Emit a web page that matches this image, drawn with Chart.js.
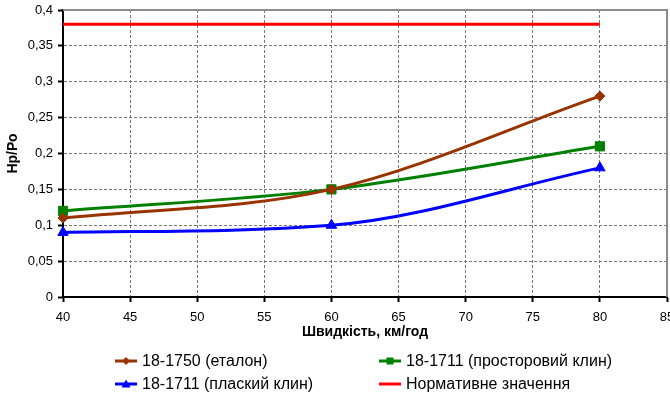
<!DOCTYPE html>
<html>
<head>
<meta charset="utf-8">
<script src="https://cdn.jsdelivr.net/npm/chart.js@4.4.1/dist/chart.umd.min.js"></script>
<style>
  html, body { margin: 0; padding: 0; background: #fff; }
  #chart { display: block; }
</style>
</head>
<body>
<canvas id="chart" width="670" height="399"></canvas>
<script>
// speed (km/h) at which measurements were taken
const speeds = [40, 60, 80];
// Нр/Ро values for each plough
const etalon = [0.11, 0.15, 0.28];        // 18-1750 (еталон)
const spatialWedge = [0.12, 0.15, 0.21];  // 18-1711 (просторовий клин)
const flatWedge = [0.09, 0.10, 0.18];     // 18-1711 (плаский клин)
const normative = [0.38, 0.38, 0.38];     // Нормативне значення

const seriesNames = [
  '18-1750 (еталон)',
  '18-1711 (просторовий клин)',
  '18-1711 (плаский клин)',
  'Нормативне значення'
];

const FONT = '"Liberation Sans", Arial, sans-serif';

const toPoints = vals => vals.map((v, i) => ({ x: speeds[i], y: v }));

function series(label, vals, color, style, radius) {
  return {
    label,
    data: toPoints(vals),
    borderColor: color,
    backgroundColor: color,
    borderWidth: 3,
    pointStyle: style,
    pointRadius: radius,
    pointHoverRadius: radius,
    pointBorderWidth: 1,
    cubicInterpolationMode: 'monotone',
    clip: false,
    fill: false
  };
}

// solid grey frame on top and right of the plot area
const frame = {
  id: 'frame',
  beforeDatasetsDraw(chart) {
    const { ctx, chartArea: a } = chart;
    ctx.save();
    ctx.strokeStyle = '#8c8c8c';
    ctx.lineWidth = 2;
    ctx.beginPath();
    ctx.moveTo(a.left, a.top);
    ctx.lineTo(a.right, a.top);
    ctx.lineTo(a.right, a.bottom);
    ctx.stroke();
    ctx.restore();
  }
};

// two-column legend under the axis title
const legend2col = {
  id: 'legend2col',
  afterDraw(chart) {
    const { ctx } = chart;
    const cols = [115, 379];
    const rows = [361, 384];
    ctx.save();
    ctx.font = '16px ' + FONT;
    ctx.textBaseline = 'middle';
    ctx.fillStyle = '#000';
    chart.data.datasets.forEach((ds, i) => {
      const x = cols[i % 2];
      const y = rows[Math.floor(i / 2)];
      ctx.strokeStyle = ds.borderColor;
      ctx.lineWidth = 3;
      ctx.beginPath();
      ctx.moveTo(x, y);
      ctx.lineTo(x + 22, y);
      ctx.stroke();
      const cx = x + 11;
      ctx.fillStyle = ds.backgroundColor;
      ctx.beginPath();
      if (ds.pointStyle === 'rectRot') {
        ctx.moveTo(cx, y - 4); ctx.lineTo(cx + 4, y); ctx.lineTo(cx, y + 4); ctx.lineTo(cx - 4, y);
      } else if (ds.pointStyle === 'rect') {
        ctx.rect(cx - 3.5, y - 3.5, 7, 7);
      } else if (ds.pointStyle === 'triangle') {
        ctx.moveTo(cx, y - 4.5); ctx.lineTo(cx + 4.5, y + 3.5); ctx.lineTo(cx - 4.5, y + 3.5);
      }
      ctx.closePath();
      if (ds.pointRadius > 0) ctx.fill();
      ctx.fillStyle = '#000';
      ctx.fillText(ds.label, x + 27, y + 1);
    });
    ctx.restore();
  }
};

new Chart(document.getElementById('chart'), {
  type: 'line',
  data: {
    datasets: [
      series(seriesNames[0], etalon, '#993300', 'rectRot', 5),
      series(seriesNames[1], spatialWedge, '#008000', 'rect', 6.5),
      series(seriesNames[2], flatWedge, '#0000ff', 'triangle', 6),
      series(seriesNames[3], normative, '#ff0000', 'circle', 0)
    ]
  },
  options: {
    responsive: false,
    animation: false,
    layout: { autoPadding: false, padding: { left: 0, top: 10, right: 3, bottom: 57 } },
    plugins: {
      legend: { display: false },
      tooltip: { enabled: false }
    },
    scales: {
      x: {
        type: 'linear',
        min: 40,
        max: 85,
        afterFit: s => { s.height = 45; s.paddingRight = 0; s.paddingLeft = 0; },
        ticks: {
          stepSize: 5,
          color: '#000',
          padding: 8,
          font: { family: FONT, size: 13 }
        },
        grid: {
          color: '#777',
          lineWidth: 1,
          tickLength: 5,
          tickColor: '#000',
          tickWidth: 2
        },
        border: { display: true, color: '#000', width: 2, dash: [3, 2] },
        title: {
          display: true,
          text: 'Швидкість, км/год',
          color: '#000',
          padding: { top: 0, bottom: 1 },
          font: { family: FONT, size: 14, weight: 'bold' }
        }
      },
      y: {
        min: 0,
        max: 0.4,
        afterFit: s => { s.width = 63; s.paddingTop = 0; s.paddingBottom = 0; },
        ticks: {
          stepSize: 0.05,
          color: '#000',
          padding: 5,
          font: { family: FONT, size: 13 },
          callback: v => String(Math.round(v * 100) / 100).replace('.', ',')
        },
        grid: {
          color: '#777',
          lineWidth: 1,
          tickLength: 5,
          tickColor: '#000',
          tickWidth: 2
        },
        border: { display: true, color: '#000', width: 2, dash: [3, 2] },
        title: {
          display: true,
          text: 'Нр/Ро',
          color: '#000',
          padding: { top: 5, bottom: 0 },
          font: { family: FONT, size: 14, weight: 'bold' }
        }
      }
    }
  },
  plugins: [frame, legend2col]
});
</script>
</body>
</html>
